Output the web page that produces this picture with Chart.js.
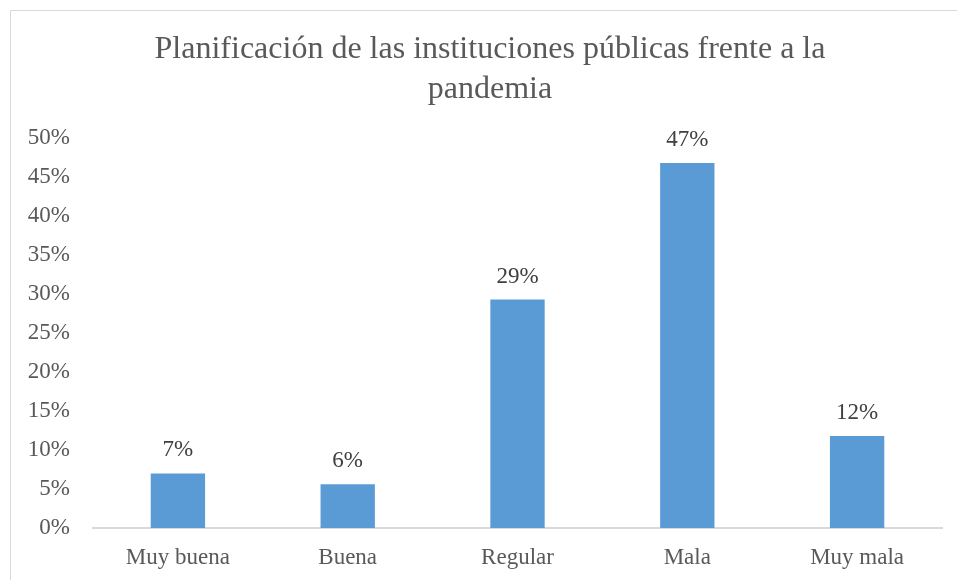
<!DOCTYPE html>
<html><head><meta charset="utf-8">
<script src="https://cdn.jsdelivr.net/npm/chart.js@4/dist/chart.umd.min.js"></script>
<style>html,body{margin:0;padding:0;background:#fff;}#wrap{width:957px;height:580px;}</style>
</head><body><div id="wrap"><canvas id="c" width="957" height="580"></canvas></div>
<script>
const categories = ["Muy buena", "Buena", "Regular", "Mala", "Muy mala"];
const values = [0.07, 0.056, 0.293, 0.468, 0.118];
const titleLines = ["Planificación de las instituciones públicas frente a la", "pandemia"];
const yTicks = [0, 0.05, 0.1, 0.15, 0.2, 0.25, 0.3, 0.35, 0.4, 0.45, 0.5];

const serif = "'Liberation Serif', 'Times New Roman', serif";

const borderPlugin = {
  id: 'frame',
  beforeDraw(chart) {
    const ctx = chart.ctx;
    ctx.save();
    ctx.fillStyle = '#fff';
    ctx.fillRect(0, 0, chart.width, chart.height);
    ctx.strokeStyle = '#d9d9d9';
    ctx.lineWidth = 1;
    ctx.beginPath();
    ctx.moveTo(10.5, chart.height);
    ctx.lineTo(10.5, 10.5);
    ctx.lineTo(chart.width, 10.5);
    ctx.stroke();
    ctx.restore();
  }
};

const titlePlugin = {
  id: 'centeredTitle',
  afterDraw(chart) {
    const ctx = chart.ctx;
    ctx.save();
    ctx.font = "32px " + serif;
    ctx.fillStyle = '#595959';
    ctx.textAlign = 'center';
    ctx.textBaseline = 'middle';
    titleLines.forEach((line, i) => ctx.fillText(line, 490, 50 + i * 40));
    ctx.restore();
  }
};

const labelPlugin = {
  id: 'valLabels',
  afterDatasetsDraw(chart) {
    const ctx = chart.ctx;
    const meta = chart.getDatasetMeta(0);
    ctx.save();
    ctx.font = "23px " + serif;
    ctx.fillStyle = '#404040';
    ctx.textAlign = 'center';
    ctx.textBaseline = 'middle';
    meta.data.forEach((bar, i) => {
      ctx.fillText(Math.round(values[i] * 100) + '%', bar.x, bar.y - 23);
    });
    ctx.restore();
  }
};

new Chart(document.getElementById('c'), {
  type: 'bar',
  data: {
    labels: categories,
    datasets: [{
      data: values,
      backgroundColor: '#5b9bd5',
      borderWidth: 0,
      barPercentage: 0.64,
      categoryPercentage: 0.5
    }]
  },
  options: {
    responsive: false,
    animation: false,
    devicePixelRatio: 1,
    layout: { padding: { top: 138, right: 15, left: 0, bottom: 1 } },
    plugins: {
      legend: { display: false },
      tooltip: { enabled: false },
      title: { display: false }
    },
    scales: {
      x: {
        grid: { display: false },
        border: { display: true, color: '#d9d9d9', width: 2 },
        ticks: { color: '#595959', font: { family: serif, size: 23, lineHeight: 1.0 }, padding: 10 }
      },
      y: {
        min: 0, max: 0.5,
        afterBuildTicks(axis) { axis.ticks = yTicks.map(v => ({ value: v })); },
        afterFit(axis) { axis.width = 93; },
        grid: { display: false },
        border: { display: false },
        ticks: {
          color: '#595959',
          font: { family: serif, size: 23 },
          padding: 15,
          callback: v => Math.round(v * 100) + '%'
        }
      }
    }
  },
  plugins: [borderPlugin, labelPlugin, titlePlugin]
});
</script></body></html>
